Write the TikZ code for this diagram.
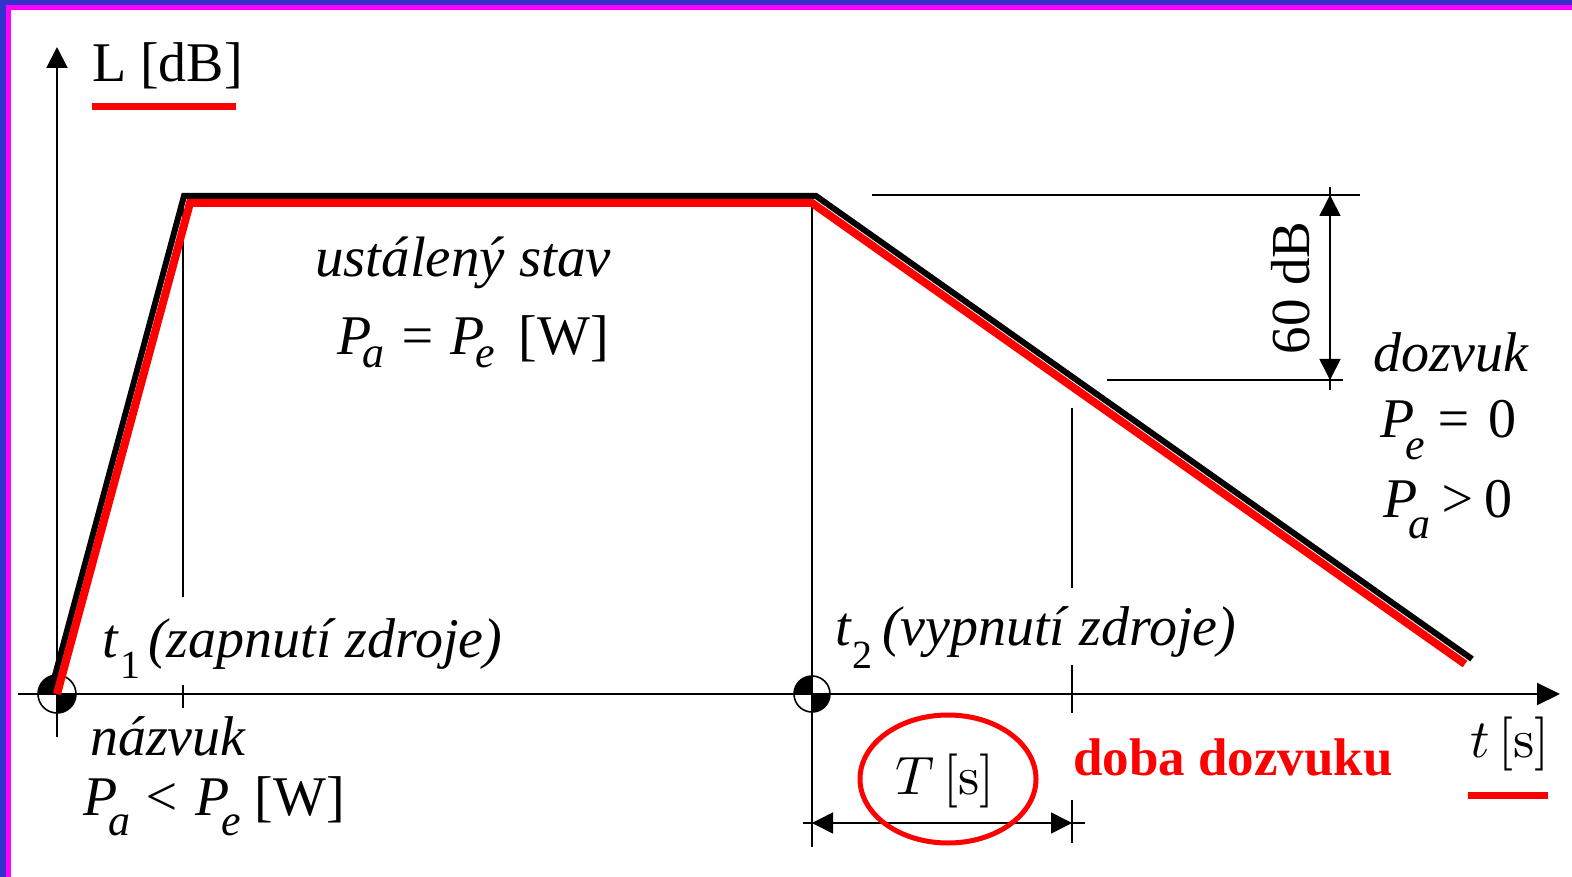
\RequirePackage{fix-cm}
\documentclass[tikz,border=0pt]{standalone}
\usepackage{graphicx}
\usepackage[no-math]{fontspec}
\setmainfont{Liberation Serif}
\usetikzlibrary{arrows.meta}
\definecolor{bordblue}{RGB}{51,51,204}
\definecolor{bordmag}{RGB}{255,0,255}
\newcommand{\fsz}[1]{\fontsize{#1}{#1}\selectfont}
\newcommand{\sbx}[2]{\kern-9pt\raisebox{-#1pt}{\fontsize{44}{44}\selectfont\itshape #2}}
\tikzset{
  thinln/.style={line width=1.6pt, black},
  axisln/.style={line width=2pt, black},
  tip/.style={-{Triangle[length=21pt,width=21pt]}},
  lbl/.style={anchor=base west, inner sep=0pt, outer sep=0pt, font=\fsz{56}},
  ilbl/.style={lbl, font=\fsz{56}\itshape},
}
\begin{document}
\begin{tikzpicture}[x=1pt,y=-1pt]
\useasboundingbox (0,0) rectangle (1572,877);
\fill[white] (0,0) rectangle (1572,877);
% border
\fill[bordblue] (0,0) rectangle (1572,5);
\fill[bordblue] (0,0) rectangle (6,877);
\fill[bordmag] (6,5) rectangle (1572,10);
\fill[bordmag] (6,5) rectangle (11,877);

% coordinates
\coordinate (O) at (57,694);
\coordinate (T2) at (812,694);
\coordinate (yb) at (57,737);
\coordinate (yt) at (57,47);
\coordinate (xl) at (18,694);
\coordinate (xr) at (1560,694);

% helper lines
\draw[thinln] (183,200) -- (183,597);
\draw[thinln] (183,685) -- (183,708);
\draw[thinln] (812,200) -- (812,847);
\draw[thinln] (1072,408) -- (1072,588);
\draw[thinln] (1072,665) -- (1072,713);
\draw[thinln] (1072,800) -- (1072,843);

% 60 dB dimension
\coordinate (d1a) at (872,195); \coordinate (d1b) at (1360,195);
\coordinate (d2a) at (1107,380); \coordinate (d2b) at (1343,380);
\draw[thinln] (d1a) -- (d1b);
\draw[thinln] (d2a) -- (d2b);
\coordinate (vd1) at (1330,187); \coordinate (vd2) at (1330,390);
\draw[thinln] (vd1) -- (vd2);
\draw[thinln, tip] (1330,260) -- (1330,195);
\draw[thinln, tip] (1330,320) -- (1330,380);

% T dimension
\coordinate (h1) at (803,823); \coordinate (h2) at (1085,823);
\draw[thinln] (h1) -- (h2);
\draw[thinln, tip] (900,823) -- (812,823);
\draw[thinln, tip] (990,823) -- (1072,823);

% axes
\draw[axisln, tip] (yb) -- (yt);
\draw[axisln, -{Triangle[length=23pt,width=22pt]}] (xl) -- (xr);

% markers
\foreach \c/\r in {O/19,T2/18}{
  \fill (\c) -- ++(-\r,0) arc[start angle=180,end angle=270,radius=\r] -- cycle;
  \fill (\c) -- ++(\r,0) arc[start angle=0,end angle=90,radius=\r] -- cycle;
  \draw[line width=1.6pt] (\c) circle[radius=\r];
}

% curves
\draw[black, line width=6pt] (50,694) -- (184,196) -- (816,196) -- (1472,659);
\draw[red, line width=8pt] (O) -- (190,203) -- (812,203) -- (1465,664);

% labels
\node[lbl] (Ly) at (92,82) {L [dB]};
\fill[red] (92,103) rectangle (236,110);

\node[ilbl, font=\fsz{57}\itshape] (ust) at (315,277) {ustálený stav};
\node[lbl] (ust2) at (337,355) {\itshape P\sbx{13}{a}\hspace{14pt}=\hspace{14pt}P\sbx{13}{e}\hspace{24pt}\upshape[W]};

\node[ilbl] (t1) at (102,657) {t};
\node[lbl, font=\fsz{40}] (t1s) at (120,678) {1};
\node[ilbl] (t1t) at (148,657) {(zapnutí zdroje)};

\node[ilbl] (t2) at (835,645) {t};
\node[lbl, font=\fsz{40}] (t2s) at (852,668) {2};
\node[ilbl] (t2t) at (882,645) {(vypnutí zdroje)};

\node[ilbl] (naz) at (90,755) {názvuk};
\node[lbl] (naz2) at (83,815) {\itshape P\sbx{20}{a}\hspace{12pt}<\hspace{16pt}P\sbx{20}{e}\hspace{14pt}\upshape[W]};

\node[ilbl] (doz) at (1373,371) {dozvuk};
\node[lbl] (doz2) at (1380,437) {\itshape P\sbx{22}{e}\hspace{10pt}=\hspace{16pt}\upshape 0};
\node[lbl] (doz3) at (1383,517) {\itshape P\sbx{21}{a}\hspace{8pt}>\hspace{8pt}\upshape 0};

\node[inner sep=0pt, rotate=90, font=\fsz{55}] (db) at (1291,288) {60 dB};

\node[anchor=base west, inner sep=0pt, text=red, font=\fsz{53}\bfseries] (doba) at (1073,775) {doba dozvuku};

\node[anchor=base west, inner sep=0pt] (Ts) at (895,794) {\scalebox{5.4}{$T\,[\mathrm{s}]$}};
\draw[red, line width=5pt] (948,779) ellipse[x radius=88, y radius=64];

\node[anchor=base west, inner sep=0pt] (ts) at (1470,757) {\scalebox{5.4}{$t\,[\mathrm{s}]$}};
\fill[red] (1468,792) rectangle (1548,799);
\end{tikzpicture}
\end{document}
